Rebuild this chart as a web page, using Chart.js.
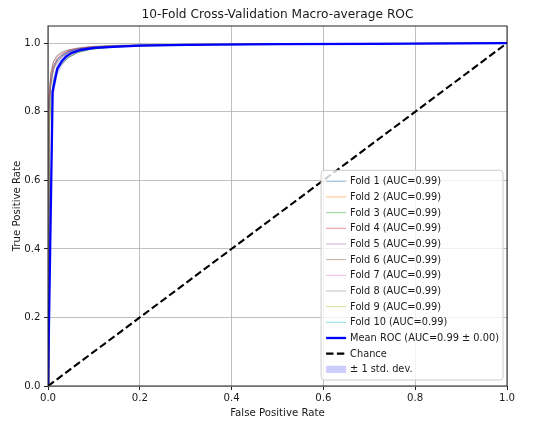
<!DOCTYPE html>
<html>
<head>
<meta charset="utf-8">
<title>10-Fold ROC</title>
<script src="https://cdn.jsdelivr.net/npm/chart.js@4.4.1/dist/chart.umd.min.js"></script>
<style>
  html, body { margin: 0; padding: 0; background: #fff; }
  #wrap { width: 550px; height: 425px; }
</style>
</head>
<body>
<div id="wrap"><canvas id="rocChart" width="550" height="425"></canvas></div>
<script>
const chartTitle = '10-Fold Cross-Validation Macro-average ROC';
const xTicks = [0, 0.2, 0.4, 0.6, 0.8, 1.0];
const yTicks = [0, 0.2, 0.4, 0.6, 0.8, 1.0];

// fold curves on a shared fpr grid
const foldFpr = [0, 0.002, 0.006, 0.012, 0.02, 0.03, 0.045, 0.065, 0.09, 0.13, 0.2, 0.35, 0.6, 1.0];
const fold1 = [0, 0.80, 0.88, 0.925, 0.950, 0.963, 0.975, 0.982, 0.987, 0.991, 0.994, 0.996, 0.998, 1];
const fold2 = [0, 0.78, 0.87, 0.920, 0.945, 0.960, 0.972, 0.980, 0.986, 0.990, 0.993, 0.996, 0.998, 1];
const fold3 = [0, 0.74, 0.83, 0.890, 0.925, 0.940, 0.958, 0.972, 0.981, 0.987, 0.992, 0.995, 0.998, 1];
const fold4 = [0, 0.82, 0.90, 0.935, 0.955, 0.968, 0.978, 0.984, 0.988, 0.991, 0.993, 0.996, 0.998, 1];
const fold5 = [0, 0.79, 0.885, 0.930, 0.952, 0.965, 0.976, 0.983, 0.987, 0.990, 0.994, 0.996, 0.998, 1];
const fold6 = [0, 0.83, 0.91, 0.945, 0.962, 0.972, 0.980, 0.985, 0.989, 0.992, 0.995, 0.997, 0.999, 1];
const fold7 = [0, 0.80, 0.89, 0.930, 0.953, 0.966, 0.977, 0.983, 0.988, 0.991, 0.994, 0.996, 0.998, 1];
const fold8 = [0, 0.84, 0.915, 0.948, 0.965, 0.974, 0.981, 0.986, 0.990, 0.993, 0.995, 0.997, 0.999, 1];
const fold9 = [0, 0.72, 0.81, 0.875, 0.920, 0.940, 0.960, 0.974, 0.982, 0.988, 0.992, 0.995, 0.998, 1];
const fold10 = [0, 0.79, 0.88, 0.926, 0.950, 0.963, 0.974, 0.982, 0.987, 0.990, 0.994, 0.996, 0.998, 1];
const foldTprs = [fold1, fold2, fold3, fold4, fold5, fold6, fold7, fold8, fold9, fold10];
const foldAuc = ['0.99', '0.99', '0.99', '0.99', '0.99', '0.99', '0.99', '0.99', '0.99', '0.99'];
const foldColors = ['31,119,180', '255,127,14', '44,160,44', '214,39,40', '148,103,189',
                    '140,86,75', '227,119,194', '127,127,127', '188,189,34', '23,190,207'];

// mean curve and its std
const meanFpr = [0, 0.0101, 0.0202, 0.0303, 0.0404, 0.0505, 0.0707, 0.101, 0.152, 0.202, 0.303, 0.505, 0.707, 1.0];
const meanTpr = [0, 0.86, 0.925, 0.948, 0.962, 0.971, 0.980, 0.986, 0.990, 0.993, 0.995, 0.997, 0.998, 1.0];
const meanStd = [0, 0.03, 0.02, 0.015, 0.011, 0.009, 0.006, 0.004, 0.003, 0.002, 0.0015, 0.001, 0.0005, 0];
const meanAuc = '0.99';
const stdAuc = '0.00';

const chanceX = [0, 1];
const chanceY = [0, 1];

const fontFamily = 'DejaVu Sans';
const textColor = '#1a1a1a';

function toPoints(xs, ys) {
  return xs.map((x, i) => ({ x: x, y: ys[i] }));
}

const datasets = [];
foldTprs.forEach((tpr, i) => {
  datasets.push({
    label: `Fold ${i + 1} (AUC=${foldAuc[i]})`,
    data: toPoints(foldFpr, tpr),
    borderColor: `rgba(${foldColors[i]}, 0.5)`,
    borderWidth: 1,
    order: 4
  });
});
datasets.push({
  label: `Mean ROC (AUC=${meanAuc} \u00b1 ${stdAuc})`,
  data: toPoints(meanFpr, meanTpr),
  borderColor: 'rgb(0,0,255)',
  borderWidth: 2.3,
  order: 2
});
datasets.push({
  label: 'Chance',
  data: toPoints(chanceX, chanceY),
  borderColor: '#000',
  borderWidth: 2.1,
  borderDash: [7.4, 3.4],
  order: 1
});
datasets.push({
  label: '\u00b1 1 std. dev.',
  data: toPoints(meanFpr, meanTpr.map((t, i) => Math.min(t + meanStd[i], 1))),
  borderColor: 'rgba(0,0,0,0)',
  borderWidth: 0,
  backgroundColor: 'rgba(0,0,255,0.2)',
  fill: '+1',
  order: 3
});
datasets.push({
  label: '',
  data: toPoints(meanFpr, meanTpr.map((t, i) => Math.max(t - meanStd[i], 0))),
  borderColor: 'rgba(0,0,0,0)',
  borderWidth: 0,
  fill: false,
  order: 3
});

// title over the plot area, like matplotlib does
const titlePlugin = {
  id: 'axesTitle',
  afterDraw(chart) {
    const { ctx, chartArea } = chart;
    ctx.save();
    ctx.font = `12.2px "${fontFamily}"`;
    ctx.fillStyle = textColor;
    ctx.textAlign = 'center';
    ctx.textBaseline = 'alphabetic';
    ctx.fillText(chartTitle, (chartArea.left + chartArea.right) / 2, chartArea.top - 8);
    ctx.restore();
  }
};

// black frame round the axes
const framePlugin = {
  id: 'axesFrame',
  afterDatasetsDraw(chart) {
    const { ctx, chartArea } = chart;
    ctx.save();
    ctx.strokeStyle = '#222';
    ctx.lineWidth = 1;
    ctx.strokeRect(chartArea.left, chartArea.top, chartArea.right - chartArea.left, chartArea.bottom - chartArea.top);
    ctx.restore();
  }
};

// legend drawn inside the lower right corner
const legendPlugin = {
  id: 'innerLegend',
  afterDraw(chart) {
    const { ctx, chartArea } = chart;
    const items = chart.data.datasets.filter(d => d.label);
    const rowH = 15.67;
    ctx.save();
    ctx.font = `9.8px "${fontFamily}"`;
    const textW = Math.max(...items.map(d => ctx.measureText(d.label).width));
    const w = textW + 33;
    const h = items.length * rowH + 6;
    const right = chartArea.right - 4;
    const bottom = chartArea.bottom - 6;
    const left = right - w;
    const top = bottom - h;

    ctx.beginPath();
    ctx.roundRect(left, top, w, h, 3);
    ctx.fillStyle = 'rgba(255,255,255,0.8)';
    ctx.fill();
    ctx.strokeStyle = '#cccccc';
    ctx.lineWidth = 1;
    ctx.stroke();

    items.forEach((d, i) => {
      const y = top + 11 + i * rowH;
      const x0 = left + 5;
      const x1 = left + 25;
      if (d.fill) {
        ctx.fillStyle = d.backgroundColor;
        ctx.fillRect(x0, y - 3.6, x1 - x0, 7.2);
      } else {
        ctx.beginPath();
        ctx.setLineDash(d.borderDash || []);
        ctx.strokeStyle = d.borderColor;
        ctx.lineWidth = d.borderWidth;
        ctx.moveTo(x0, y);
        ctx.lineTo(x1, y);
        ctx.stroke();
        ctx.setLineDash([]);
      }
      ctx.fillStyle = textColor;
      ctx.textAlign = 'left';
      ctx.textBaseline = 'middle';
      ctx.fillText(d.label, left + 29, y + 0.5);
    });
    ctx.restore();
  }
};

Chart.defaults.font.family = fontFamily;
Chart.defaults.font.size = 10.2;
Chart.defaults.color = textColor;

const gridStyle = {
  color: 'rgba(176,176,176,0.8)',
  lineWidth: 1,
  tickColor: '#222',
  tickLength: 4,
  tickWidth: 1
};

new Chart(document.getElementById('rocChart'), {
  type: 'line',
  data: { datasets: datasets },
  options: {
    responsive: false,
    animation: false,
    events: [],
    layout: { padding: { top: 26, right: 43, bottom: 0, left: 0 } },
    elements: {
      point: { radius: 0 },
      line: { tension: 0, borderJoinStyle: 'round' }
    },
    scales: {
      x: {
        type: 'linear',
        min: 0,
        max: 1,
        grid: gridStyle,
        border: { display: false },
        afterBuildTicks: scale => { scale.ticks = xTicks.map(v => ({ value: v })); },
        afterFit: scale => { scale.height = 39; },
        ticks: { padding: 2, maxRotation: 0, callback: v => v.toFixed(1) },
        title: { display: true, text: 'False Positive Rate', padding: { top: 0, bottom: 5.5 } }
      },
      y: {
        type: 'linear',
        min: 0,
        max: 1.05,
        grid: gridStyle,
        border: { display: false },
        afterBuildTicks: scale => { scale.ticks = yTicks.map(v => ({ value: v })); },
        afterFit: scale => { scale.width = 48; },
        ticks: { padding: 3.5, callback: v => v.toFixed(1) },
        title: { display: true, text: 'True Positive Rate', padding: { top: 11, bottom: 0 } }
      }
    },
    plugins: {
      legend: { display: false },
      tooltip: { enabled: false }
    }
  },
  plugins: [framePlugin, titlePlugin, legendPlugin]
});
</script>
</body>
</html>
